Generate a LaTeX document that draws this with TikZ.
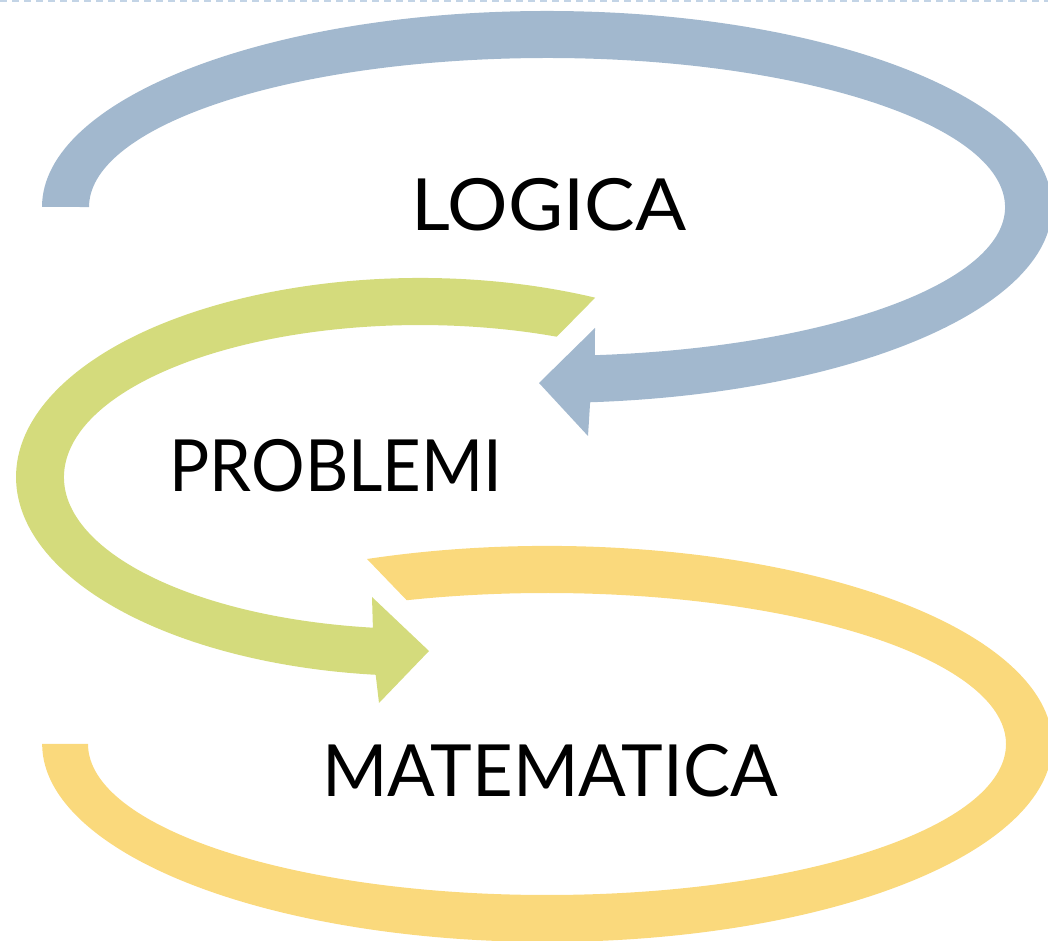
\documentclass[tikz,border=0pt]{standalone}
\usepackage{fontspec}
\setmainfont{Lato}
\definecolor{cblue}{RGB}{162,184,206}
\definecolor{cgreen}{RGB}{212,219,124}
\definecolor{cyellow}{RGB}{250,217,124}
\definecolor{cdash}{RGB}{195,212,230}
\begin{document}
\begin{tikzpicture}[x=1pt,y=1pt,
  lbl/.style={anchor=base,inner sep=0pt,font=\fontsize{72}{80}\selectfont,text=black}]
\useasboundingbox (0,0) rectangle (1048,941);
\clip (0,0) rectangle (1048,941);
% top dashed line
\coordinate (dl) at (0,940);
\coordinate (dr) at (1048,940);
\draw[cdash,line width=2pt,dash pattern=on 7pt off 5pt] (dl) -- (dr);
% blue arrow (LOGICA)
\fill[cblue] (42,734) arc[start angle=180,end angle=-85.1,x radius=505,y radius=196]
  -- (588,505) -- (539,558) -- (595,613) -- (594.9,585.8)
  arc[start angle=-84,end angle=180,x radius=458,y radius=149] -- cycle;
% green arrow (PROBLEMI)
\fill[cgreen] (595.2,643.3) arc[start angle=64.3,end angle=263.7,x radius=404,y radius=199]
  -- (379,238) -- (429,290) -- (372,344) -- (372.9,313.3)
  arc[start angle=262.4,end angle=67.4,x radius=356,y radius=152] -- cycle;
% yellow arrow (MATEMATICA)
\fill[cyellow] (367,382) arc[start angle=110.9,end angle=-180,x radius=505,y radius=198]
  -- (88,197) arc[start angle=-180,end angle=107.8,x radius=459,y radius=151] -- cycle;
% labels
\node[lbl,xscale=1.05] (logica) at (549,710) {LOGICA};
\node[lbl,xscale=0.93] (problemi) at (336,449) {PROBLEMI};
\node[lbl,xscale=0.98] (matematica) at (550,144) {MATEMATICA};
\end{tikzpicture}
\end{document}
